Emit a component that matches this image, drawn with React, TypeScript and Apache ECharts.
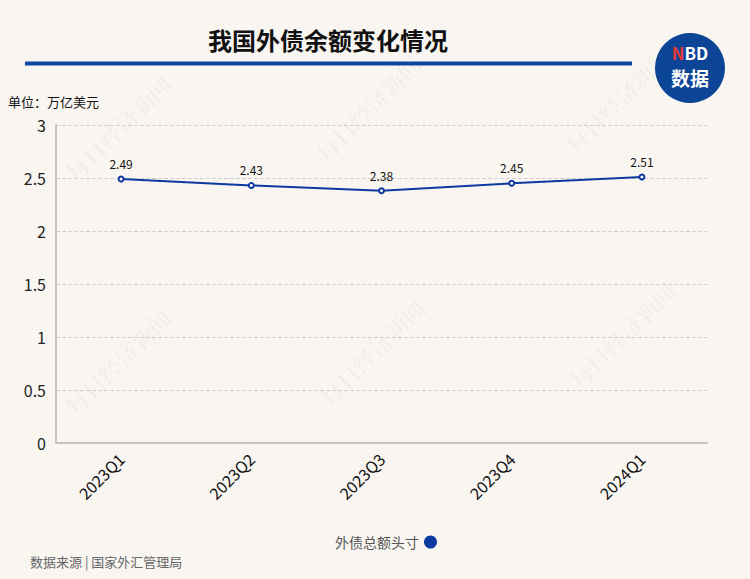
import React, { useEffect, useRef } from "react";
import * as echarts from "echarts";

const categories = ["2023Q1", "2023Q2", "2023Q3", "2023Q4", "2024Q1"];
const values = [2.49, 2.43, 2.38, 2.45, 2.51];
const seriesName = "外债总额头寸";
const titleText = "我国外债余额变化情况";
const unitText = "单位：万亿美元";
const sourceText = "数据来源 | 国家外汇管理局";

const wmPositions: [number, number][] = [
  [118, 128], [368, 108], [618, 100],
  [118, 362], [372, 352], [622, 335],
];

export default function App() {
  const ref = useRef<HTMLDivElement>(null);
  useEffect(() => {
    if (!ref.current) return;
    const chart = echarts.init(ref.current, null, { renderer: "svg" });
    const font = "'Microsoft YaHei', 'Noto Sans CJK SC', sans-serif";
    const watermarks = wmPositions.map(([x, y]) => ({
      type: "text",
      x,
      y,
      rotation: Math.PI / 4,
      z: -1,
      silent: true,
      style: {
        text: "每日经济新闻",
        fill: "rgba(0,0,0,0.035)",
        font: `bold 23px 'Noto Serif CJK SC', 'Noto Sans CJK SC', serif`,
        textAlign: "center",
        textVerticalAlign: "middle",
      },
    }));
    chart.setOption({
      animation: false,
      backgroundColor: "#f9f6f2",
      textStyle: { fontFamily: font },
      graphic: [
        ...watermarks,
        {
          type: "text",
          x: 328,
          y: 39,
          style: {
            text: titleText,
            fill: "#111",
            font: `bold 24px ${font}`,
            textAlign: "center",
            textVerticalAlign: "middle",
          },
        },
        {
          type: "rect",
          shape: { x: 25, y: 61.5, width: 607, height: 4 },
          style: { fill: "#0c47a1" },
        },
        {
          type: "circle",
          shape: { cx: 690, cy: 68, r: 35 },
          style: { fill: "#0d4596" },
        },
        {
          type: "text",
          x: 690,
          y: 52,
          style: {
            text: "{n|N}{b|BD}",
            textAlign: "center",
            textVerticalAlign: "middle",
            rich: {
              n: { fill: "#e53935", font: `bold 17px ${font}` },
              b: { fill: "#ffffff", font: `bold 17px ${font}` },
            },
          },
        },
        {
          type: "text",
          x: 690,
          y: 77,
          style: {
            text: "数据",
            fill: "#ffffff",
            font: `bold 19px ${font}`,
            textAlign: "center",
            textVerticalAlign: "middle",
          },
        },
        {
          type: "text",
          x: 8,
          y: 101,
          style: {
            text: unitText,
            fill: "#111",
            font: `13px ${font}`,
            textVerticalAlign: "middle",
          },
        },
        {
          type: "text",
          x: 30,
          y: 561,
          style: {
            text: sourceText,
            fill: "#666",
            font: `13px ${font}`,
            textVerticalAlign: "middle",
          },
        },
      ],
      legend: {
        data: [{ name: seriesName, icon: "circle" }],
        left: 330,
        top: 530,
        align: "right",
        itemWidth: 13,
        itemHeight: 13,
        itemGap: 4,
        textStyle: { color: "#555", fontSize: 14, fontFamily: font },
      },
      grid: { left: 56, right: 43, top: 125, bottom: 136, containLabel: false },
      xAxis: {
        type: "category",
        data: categories,
        boundaryGap: true,
        axisLine: { show: true, lineStyle: { color: "#c4c4c4", width: 2 } },
        axisTick: { show: false },
        axisLabel: {
          rotate: 45,
          color: "#111",
          fontSize: 16,
          margin: 13,
          fontFamily: font,
        },
      },
      yAxis: {
        type: "value",
        min: 0,
        max: 3,
        interval: 0.5,
        axisLine: { show: true, lineStyle: { color: "#c4c4c4", width: 2 } },
        axisTick: { show: false },
        axisLabel: { color: "#222", fontSize: 16, margin: 10, fontFamily: font },
        splitLine: { lineStyle: { color: "#d0d0d0", type: "dashed" } },
      },
      series: [
        {
          name: seriesName,
          type: "line",
          data: values,
          color: "#0d3aa0",
          symbol: "emptyCircle",
          symbolSize: 5,
          lineStyle: { width: 2, color: "#0d3aa0" },
          itemStyle: { color: "#0d3aa0", borderWidth: 1.2 },
          label: {
            show: true,
            position: "top",
            color: "#111",
            fontSize: 12,
            distance: 6,
            fontFamily: font,
          },
        },
      ],
    });
    return () => chart.dispose();
  }, []);
  return <div ref={ref} style={{ width: 750, height: 579, position: "absolute", left: 0, top: 0 }} />;
}
